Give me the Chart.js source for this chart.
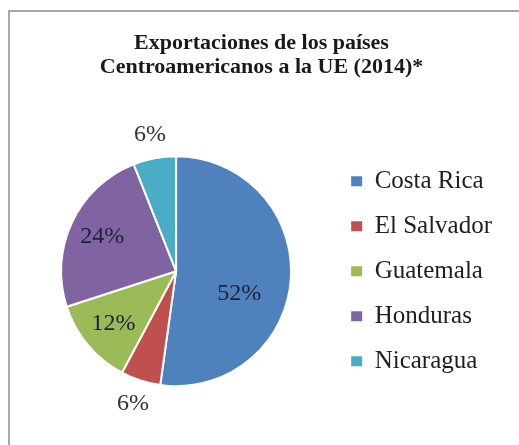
<!DOCTYPE html>
<html lang="es">
  <head>
    <meta charset="UTF-8" />
    <title>Exportaciones a la UE</title>
    <script src="https://cdn.jsdelivr.net/npm/chart.js@4.4.1/dist/chart.umd.min.js"></script>
    <style>
      body {
        margin: 0;
        padding: 0;
        background: #fff;
        width: 519px;
        height: 445px;
        overflow: hidden;
        position: relative;
      }

      .caption {
        position: absolute;
        top: -16px;
        left: 0;
        width: 532px;
        text-align: center;
        font-family: "Liberation Serif", serif;
        font-weight: bold;
        font-size: 19px;
        line-height: 20px;
        color: #222;
      }

      .frame {
        position: absolute;
        left: 8px;
        top: 10px;
        width: 600px;
        height: 600px;
        border-left: 2px solid #a8a8a8;
        border-top: 2px solid #a8a8a8;
      }

      #chart {
        position: absolute;
        left: 0;
        top: 0;
      }
    </style>
  </head>

  <body>
    <div class="caption">GRÁFICO 2</div>
    <div class="frame"></div>
    <canvas id="chart" width="519" height="445"></canvas>

    <script>
      // datos
      const paises = ["Costa Rica", "El Salvador", "Guatemala", "Honduras", "Nicaragua"];
      const participacion = [52.2, 5.6, 12.2, 24, 6];
      const colores = ["#4f81bd", "#c0504d", "#9bbb59", "#8064a2", "#4bacc6"];
      const titulo = ["Exportaciones de los países", "Centroamericanos a la UE (2014)*"];

      const fuente = "'Liberation Serif', 'Times New Roman', serif";

      // etiquetas de porcentaje sobre cada sector
      const etiquetasPct = {
        id: "etiquetasPct",
        afterDatasetsDraw(chart) {
          const ctx = chart.ctx;
          const meta = chart.getDatasetMeta(0);
          const data = chart.data.datasets[0].data;
          const total = data.reduce((a, b) => a + b, 0);
          ctx.save();
          ctx.font = "24px " + fuente;
          ctx.textAlign = "center";
          ctx.textBaseline = "middle";
          meta.data.forEach((arc, i) => {
            const p = arc.getProps(["x", "y", "startAngle", "endAngle", "outerRadius"], true);
            const mid = (p.startAngle + p.endAngle) / 2;
            const pct = (data[i] / total) * 100;
            let f = 0.71;
            if (pct < 8) f = 1.21;
            else if (pct > 40) f = 0.55;
            let tx = p.x + Math.cos(mid) * p.outerRadius * f;
            let ty = p.y + Math.sin(mid) * p.outerRadius * f;
            if (pct > 40) ty += 18;
            ctx.fillStyle = pct < 8 ? "#333" : "#1c2238";
            ctx.fillText(Math.round(pct) + "%", tx, ty);
          });
          ctx.restore();
        },
      };

      const ctx = document.getElementById("chart").getContext("2d");

      new Chart(ctx, {
        type: "pie",
        data: {
          labels: paises,
          datasets: [
            {
              data: participacion,
              backgroundColor: colores,
              borderColor: "#ffffff",
              borderWidth: 2,
              radius: 115,
            },
          ],
        },
        options: {
          responsive: false,
          animation: false,
          layout: {
            padding: { top: 0, left: 21, right: 17, bottom: 49 },
          },
          plugins: {
            title: {
              display: true,
              text: titulo,
              color: "#1a1a1a",
              font: { family: fuente, size: 22, weight: "bold", lineHeight: 1.1 },
              padding: { top: 31, bottom: 67 },
            },
            legend: {
              position: "right",
              fullSize: false,
              labels: {
                color: "#1e1e1e",
                font: { family: fuente, size: 25 },
                boxWidth: 11,
                boxHeight: 10,
                padding: 20,
                generateLabels(chart) {
                  const items = Chart.overrides.doughnut.plugins.legend.labels.generateLabels(chart);
                  items.forEach((it) => {
                    it.lineWidth = 0;
                    it.strokeStyle = it.fillStyle;
                  });
                  return items;
                },
              },
            },
            tooltip: { enabled: false },
          },
        },
        plugins: [etiquetasPct],
      });
    </script>
  </body>
</html>
